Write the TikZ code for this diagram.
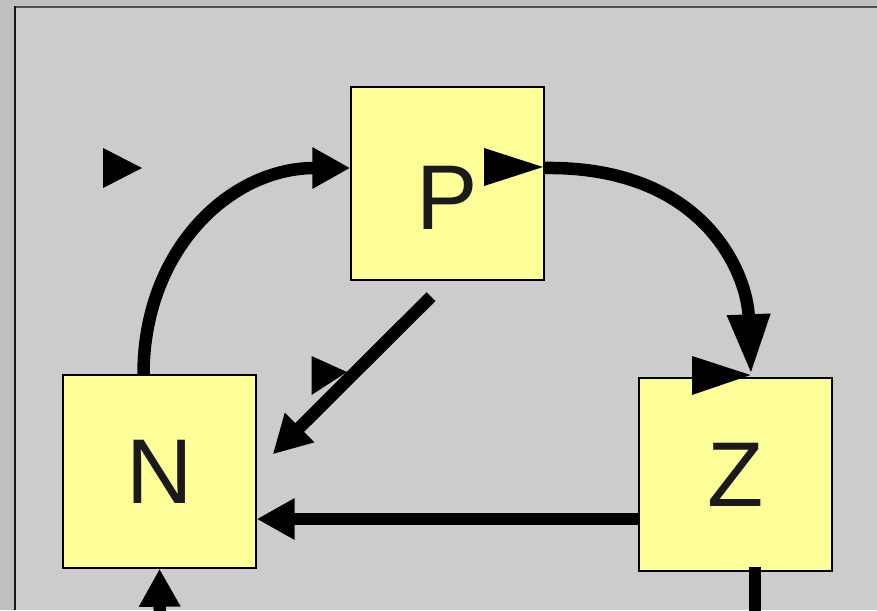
\documentclass[tikz,border=0pt]{standalone}
\usepackage{fontspec}
\setmainfont{Liberation Sans}
\usetikzlibrary{arrows.meta}

\definecolor{outerbg}{RGB}{192,192,192}
\definecolor{panelbg}{RGB}{204,204,204}
\definecolor{boxfill}{RGB}{255,255,153}
\definecolor{edgegray}{RGB}{80,80,80}
\definecolor{ink}{RGB}{26,26,26}

\tikzset{
  statebox/.style={draw=black, line width=1.4pt, fill=boxfill, inner sep=0pt,
    minimum width=193pt, minimum height=193pt, text=ink,
    font=\fontsize{92}{110}\selectfont},
  link/.style={line width=12.5pt, draw=black},
  head/.style={-{Triangle[length=38pt,width=39pt]}},
  longhead/.style={-{Triangle[length=60pt,width=40pt]}},
  marker/.style={fill=black}
}

\begin{document}
\begin{tikzpicture}[x=1pt,y=-1pt]
  % page and panel
  \fill[outerbg] (0,0) rectangle (877,610);
  \fill[panelbg] (15,7) rectangle (877,610);
  \useasboundingbox (0,0) rectangle (877,610);
  \draw[edgegray, line width=1.6pt] (15,7) -- (877,7);
  \draw[black!90, line width=1.3pt] (15,6.2) -- (15,610);

  % the three states
  \node[statebox, text height=92pt] (P) at (447.5,183.5) {P};
  \node[statebox] (N) at (159.5,471.5) {N};
  \node[statebox] (Z) at (735.5,474.5) {Z};

  % free ends running off the bottom edge
  \coordinate (Nin) at (160,650);
  \coordinate (Zout) at (755,640);

  % transitions
  \draw[link, head] ([xshift=-16pt]N.north)
    .. controls (143.5,250) and (230,168) .. ([yshift=15.5pt]P.west);
  \draw[link, longhead] ([yshift=15.5pt]P.east)
    .. controls (703,166) and (747,272) .. ([xshift=15.5pt,yshift=3pt]Z.north);
  \draw[link, head] ([xshift=-16.5pt,yshift=-16pt]P.south)
    -- ([xshift=16pt,yshift=-80pt]N.north east);
  \draw[link, head] ([yshift=-44.5pt]Z.west) -- ([yshift=-47.5pt]N.east);
  \draw[link, head] (Nin) -- (N.south);
  \draw[link] ([xshift=19.5pt,yshift=5pt]Z.south) -- (Zout);

  % triangular markers
  \fill[marker] (103,148) -- (142,168) -- (103,188) -- cycle;
  \fill[marker] (484,148) -- (543,167) -- (484,186) -- cycle;
  \fill[marker] (311.5,356) -- (347,372) -- (311.5,395) -- cycle;
  \fill[marker] (692,356) -- (750.5,375) -- (692,395) -- cycle;
\end{tikzpicture}
\end{document}
